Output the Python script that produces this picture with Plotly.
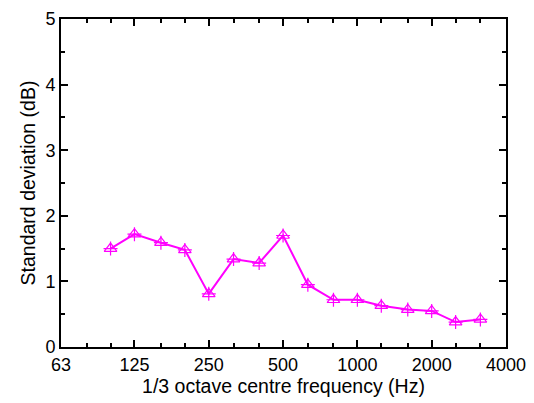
import plotly.graph_objects as go

# 1/3 octave band centre frequencies (Hz) and standard deviation (dB)
freqs = [100, 125, 160, 200, 250, 315, 400, 500, 630, 800, 1000, 1250, 1600, 2000, 2500, 3150]
std_dev = [1.50, 1.72, 1.59, 1.48, 0.81, 1.34, 1.28, 1.70, 0.95, 0.72, 0.72, 0.63, 0.57, 0.55, 0.38, 0.42]

major_ticks = [63, 125, 250, 500, 1000, 2000, 4000]
minor_ticks = [80, 100, 160, 200, 315, 400, 630, 800, 1250, 1600, 2500, 3150]

col = '#FF00FF'
font = 'Liberation Sans, Arial, sans-serif'

fig = go.Figure()

fig.add_trace(go.Scatter(
    x=freqs, y=std_dev, mode='lines+markers',
    line=dict(color=col, width=2),
    marker=dict(symbol='triangle-up-open', size=11, color=col, line=dict(width=1.2, color=col))
))
fig.add_trace(go.Scatter(
    x=freqs, y=std_dev, mode='markers',
    marker=dict(symbol='cross-thin-open', size=10, color=col, line=dict(width=1.2, color=col))
))

axis_common = dict(
    showline=True, linecolor='black', linewidth=2, mirror='allticks',
    ticks='inside', ticklen=7, tickwidth=1.5, tickcolor='black',
    showgrid=False, zeroline=False,
    tickfont=dict(family=font, size=18, color='black'),
)

fig.update_xaxes(
    type='log', range=[1.7993, 3.6021],
    tickmode='array', tickvals=major_ticks, ticktext=[str(t) for t in major_ticks],
    minor=dict(tickmode='array', tickvals=minor_ticks, ticks='inside', ticklen=4, tickwidth=1.5, tickcolor='black'),
    title=dict(text='1/3 octave centre frequency (Hz)', font=dict(family=font, size=19.5, color='black'), standoff=0),
    **axis_common
)
fig.update_yaxes(
    range=[0, 5], tickvals=[0, 1, 2, 3, 4, 5],
    minor=dict(tickvals=[0.5, 1.5, 2.5, 3.5, 4.5], ticks='inside', ticklen=4, tickwidth=1.5, tickcolor='black'),
    title=dict(text='Standard deviation (dB)', font=dict(family=font, size=19.5, color='black'), standoff=5),
    **axis_common
)

# page body has an 8px margin, so the figure is shrunk and offset to match
fig.update_layout(
    width=526, height=395,
    margin=dict(l=53, r=28, t=11, b=56, autoexpand=False),
    showlegend=False,
    plot_bgcolor='white', paper_bgcolor='white',
)

fig.write_html("out.html")
